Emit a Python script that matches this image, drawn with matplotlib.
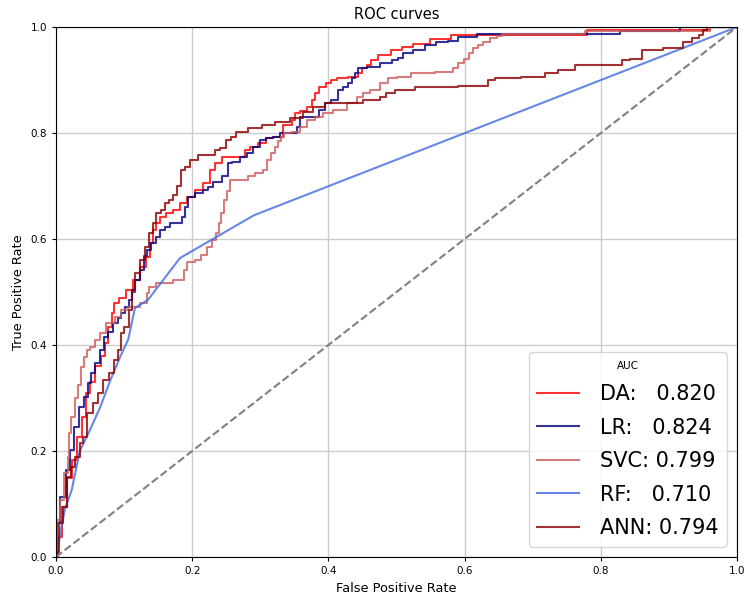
import matplotlib
matplotlib.use("Agg")
import matplotlib.pyplot as plt

# ROC points (fpr, tpr)
da_fpr = [0, 0.006, 0.013, 0.02, 0.028, 0.035, 0.04, 0.047, 0.054, 0.062, 0.069, 0.074, 0.079,
          0.084, 0.087, 0.098, 0.109, 0.118, 0.128, 0.135, 0.14, 0.145, 0.15, 0.155, 0.167, 0.177,
          0.187, 0.197, 0.211, 0.221, 0.231, 0.236, 0.251, 0.275, 0.28, 0.289, 0.304, 0.314, 0.324,
          0.344, 0.348, 0.353, 0.363, 0.373, 0.378, 0.383, 0.39, 0.402, 0.407, 0.417, 0.441, 0.446,
          0.454, 0.458, 0.466, 0.48, 0.505, 0.51, 0.539, 0.559, 0.6, 0.78, 0.78, 0.96, 0.96, 1.0]
da_tpr = [0, 0.038, 0.094, 0.15, 0.183, 0.226, 0.264, 0.31, 0.33, 0.36, 0.38, 0.404, 0.434,
          0.46, 0.479, 0.489, 0.504, 0.523, 0.547, 0.566, 0.592, 0.617, 0.63, 0.642, 0.649, 0.655,
          0.668, 0.68, 0.692, 0.705, 0.73, 0.743, 0.755, 0.755, 0.768, 0.774, 0.781, 0.79, 0.793,
          0.815, 0.825, 0.838, 0.842, 0.85, 0.862, 0.875, 0.887, 0.894, 0.9, 0.904, 0.906, 0.913,
          0.923, 0.928, 0.938, 0.947, 0.957, 0.962, 0.968, 0.977, 0.985, 0.985, 0.994, 0.994, 1.0, 1.0]

lr_fpr = [0, 0.003, 0.01, 0.018, 0.023, 0.03, 0.038, 0.043, 0.05, 0.054, 0.062, 0.067, 0.074,
          0.079, 0.087, 0.094, 0.098, 0.104, 0.109, 0.113, 0.12, 0.126, 0.131, 0.135, 0.143, 0.15,
          0.155, 0.164, 0.172, 0.182, 0.187, 0.192, 0.197, 0.211, 0.221, 0.226, 0.236, 0.251, 0.253,
          0.265, 0.275, 0.285, 0.295, 0.304, 0.314, 0.324, 0.334, 0.353, 0.355, 0.363, 0.378, 0.393,
          0.397, 0.412, 0.417, 0.427, 0.432, 0.437, 0.441, 0.446, 0.466, 0.486, 0.5, 0.505, 0.515,
          0.534, 0.549, 0.568, 0.583, 0.598, 0.637, 0.828, 0.828, 0.917, 0.917, 1.0]
lr_tpr = [0, 0.064, 0.113, 0.164, 0.202, 0.245, 0.283, 0.302, 0.328, 0.347, 0.366, 0.39, 0.416,
          0.425, 0.441, 0.451, 0.46, 0.472, 0.485, 0.504, 0.523, 0.542, 0.567, 0.579, 0.592, 0.604,
          0.617, 0.623, 0.63, 0.63, 0.642, 0.661, 0.68, 0.687, 0.692, 0.699, 0.708, 0.718, 0.743,
          0.746, 0.755, 0.762, 0.774, 0.787, 0.79, 0.793, 0.8, 0.8, 0.812, 0.831, 0.831, 0.843,
          0.857, 0.862, 0.881, 0.887, 0.894, 0.904, 0.913, 0.923, 0.925, 0.932, 0.938, 0.942, 0.951,
          0.957, 0.966, 0.972, 0.974, 0.981, 0.987, 0.987, 0.992, 0.992, 1.0, 1.0]

svc_fpr = [0, 0.003, 0.008, 0.016, 0.018, 0.02, 0.025, 0.03, 0.035, 0.038, 0.045, 0.047, 0.054,
           0.062, 0.067, 0.079, 0.094, 0.098, 0.113, 0.133, 0.135, 0.138, 0.157, 0.187, 0.189, 0.197,
           0.211, 0.216, 0.226, 0.231, 0.238, 0.241, 0.245, 0.248, 0.253, 0.258, 0.28, 0.285, 0.3,
           0.309, 0.311, 0.319, 0.324, 0.329, 0.331, 0.339, 0.353, 0.363, 0.373, 0.388, 0.397, 0.417,
           0.437, 0.446, 0.456, 0.466, 0.486, 0.49, 0.51, 0.534, 0.579, 0.586, 0.596, 0.603, 0.61,
           0.615, 0.623, 0.632, 0.642, 0.652, 0.659, 0.777, 0.777, 0.96, 0.96, 1.0]
svc_tpr = [0, 0.07, 0.107, 0.158, 0.189, 0.234, 0.264, 0.3, 0.325, 0.359, 0.378, 0.39, 0.397,
           0.41, 0.423, 0.441, 0.453, 0.466, 0.472, 0.479, 0.498, 0.51, 0.517, 0.523, 0.542, 0.557,
           0.56, 0.57, 0.585, 0.598, 0.611, 0.63, 0.649, 0.674, 0.69, 0.711, 0.711, 0.718, 0.724,
           0.73, 0.749, 0.762, 0.774, 0.785, 0.793, 0.8, 0.802, 0.812, 0.825, 0.831, 0.838, 0.843,
           0.857, 0.868, 0.875, 0.881, 0.894, 0.904, 0.906, 0.913, 0.915, 0.923, 0.932, 0.94, 0.951,
           0.96, 0.966, 0.972, 0.979, 0.983, 0.987, 0.987, 0.992, 0.992, 1.0, 1.0]

rf_fpr = [0, 0.013, 0.023, 0.035, 0.05, 0.065, 0.08, 0.095, 0.106, 0.116, 0.135, 0.182, 0.291, 1.0]
rf_tpr = [0, 0.09, 0.126, 0.2, 0.24, 0.283, 0.334, 0.38, 0.41, 0.47, 0.485, 0.564, 0.645, 1.0]

ann_fpr = [0, 0.002, 0.008, 0.013, 0.02, 0.025, 0.032, 0.038, 0.04, 0.052, 0.057, 0.065, 0.074,
           0.082, 0.089, 0.094, 0.096, 0.104, 0.109, 0.113, 0.12, 0.128, 0.133, 0.14, 0.145, 0.15,
           0.157, 0.162, 0.17, 0.175, 0.18, 0.187, 0.192, 0.201, 0.216, 0.231, 0.236, 0.245, 0.253,
           0.26, 0.27, 0.295, 0.309, 0.334, 0.353, 0.373, 0.383, 0.407, 0.432, 0.471, 0.48, 0.49,
           0.505, 0.549, 0.632, 0.637, 0.652, 0.715, 0.72, 0.755, 0.769, 0.828, 0.833, 0.853, 0.867,
           0.916, 0.926, 0.941, 0.946, 0.953, 0.958, 1.0]
ann_tpr = [0, 0.01, 0.064, 0.094, 0.151, 0.17, 0.189, 0.215, 0.226, 0.272, 0.29, 0.309, 0.334,
           0.347, 0.372, 0.39, 0.423, 0.434, 0.466, 0.5, 0.536, 0.56, 0.585, 0.611, 0.63, 0.649,
           0.655, 0.668, 0.674, 0.683, 0.7, 0.73, 0.736, 0.749, 0.758, 0.758, 0.768, 0.772, 0.787,
           0.793, 0.802, 0.809, 0.815, 0.821, 0.828, 0.84, 0.85, 0.857, 0.857, 0.862, 0.868, 0.875,
           0.881, 0.887, 0.889, 0.9, 0.904, 0.906, 0.913, 0.919, 0.928, 0.928, 0.938, 0.94, 0.957,
           0.96, 0.972, 0.979, 0.985, 0.994, 1.0, 1.0]

labels = ["DA:   0.820", "LR:   0.824", "SVC: 0.799", "RF:   0.710", "ANN: 0.794"]
colors = ["red", "navy", "indianred", "royalblue", "darkred"]

fig = plt.figure(figsize=(7.45, 5.97), dpi=100)
ax = fig.add_axes([56 / 745, 1 - 557 / 597, 681 / 745, 530 / 597])

curves = [(da_fpr, da_tpr), (lr_fpr, lr_tpr), (svc_fpr, svc_tpr), (rf_fpr, rf_tpr), (ann_fpr, ann_tpr)]
for (x, y), lab, c in zip(curves, labels, colors):
    if lab.startswith("RF"):
        ax.plot(x, y, color=c, alpha=0.8, lw=1.5, label=lab)
    else:
        ax.plot(x, y, color=c, alpha=0.8, lw=1.5, label=lab, drawstyle="steps-mid")

ax.plot([0, 1], [0, 1], color="gray", ls="--", lw=1.5)

ax.set_xlim(0, 1)
ax.set_ylim(0, 1)
ax.grid(True, color="#cccccc", lw=1)
ax.set_axisbelow(True)
ax.tick_params(labelsize=7.5, length=3)
ax.set_xlabel("False Positive Rate", fontsize=9.3)
ax.set_ylabel("True Positive Rate", fontsize=9.3)
ax.set_title("ROC curves", fontsize=10.5)
ax.legend(loc="lower right", title="AUC", fontsize=15, title_fontsize=7.5,
          labelspacing=0.65, handletextpad=1.0)

fig.savefig("out.png", dpi=100)
